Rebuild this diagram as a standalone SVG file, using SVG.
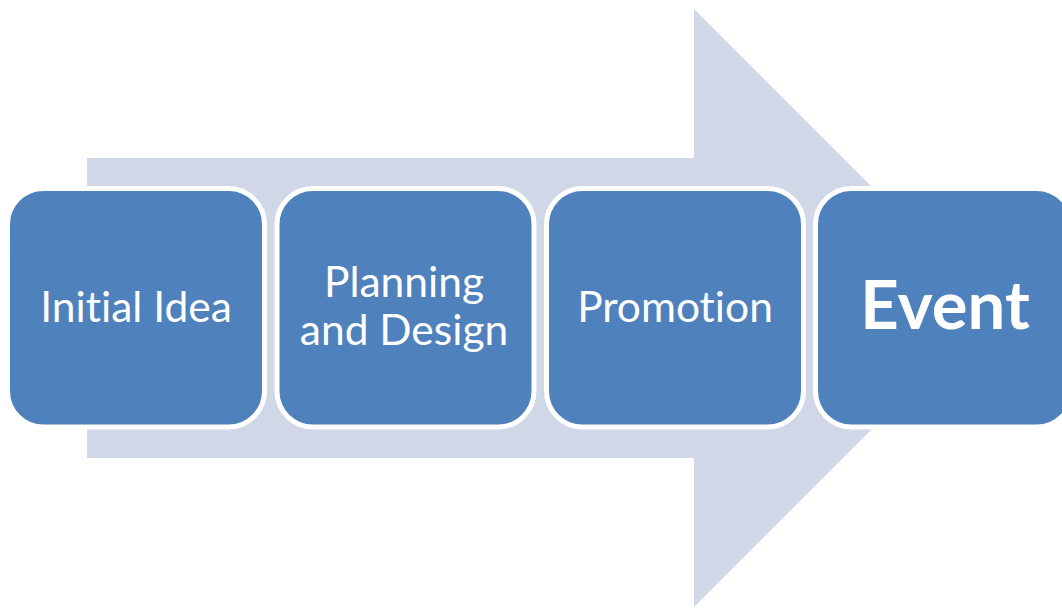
<svg xmlns="http://www.w3.org/2000/svg" width="1062" height="609" viewBox="0 0 1062 609">
  <style>
    .step { fill: #4F81BD; stroke: #FFFFFF; stroke-width: 5; }
    .label { fill: #FFFFFF; font-family: Lato, "Open Sans", "Liberation Sans", sans-serif; font-size: 42.5px; text-anchor: middle; font-variant-ligatures: none; }
    .big { font-size: 67px; font-weight: bold; }
  </style>
  <rect width="1062" height="609" fill="#FFFFFF"/>

  <!-- background process arrow -->
  <g id="connectors">
    <polygon id="flow-arrow" fill="#D0D8E8" points="87,158 694,158 694,9 993,308 694,607 694,458 87,458"/>
  </g>

  <g id="step-initial-idea">
    <rect class="step" x="7.5" y="188.5" width="257" height="238.5" rx="36" ry="36"/>
    <text class="label" x="136" y="322">Initial Idea</text>
  </g>

  <g id="step-planning">
    <rect class="step" x="277" y="188.5" width="257" height="238.5" rx="36" ry="36"/>
    <text class="label" x="404" y="297">Planning</text>
    <text class="label" x="404" y="344.5">and Design</text>
  </g>

  <g id="step-promotion">
    <rect class="step" x="546.5" y="188.5" width="257" height="238.5" rx="36" ry="36"/>
    <text class="label" x="675" y="322">Promotion</text>
  </g>

  <g id="step-event">
    <rect class="step" x="815.5" y="188.5" width="257" height="238.5" rx="36" ry="36"/>
    <text class="label big" x="945" y="328.5">Event</text>
  </g>
</svg>
